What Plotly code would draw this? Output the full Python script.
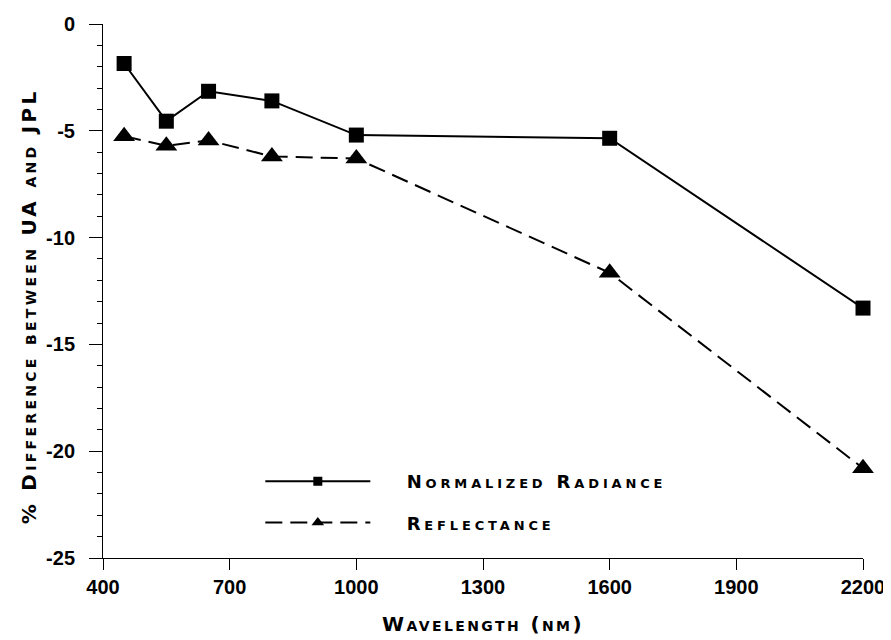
import plotly.graph_objects as go

# wavelength (nm)
wavelength = [450, 550, 650, 800, 1000, 1600, 2200]
# % difference between UA and JPL
norm_radiance = [-1.85, -4.55, -3.15, -3.6, -5.2, -5.35, -13.3]
reflectance = [-5.25, -5.7, -5.45, -6.2, -6.3, -11.65, -20.8]

x_ticks = [400, 700, 1000, 1300, 1600, 1900, 2200]
y_ticks = [0, -5, -10, -15, -20, -25]
y_labels = ["0", "-5", "-10", "-15", "-20", "-25"]
y_minor = [v for v in range(-24, 0) if v % 5]

FONT = "Liberation Sans, Arial, sans-serif"
CAPS_FONT = "DejaVu Sans, sans-serif"


def spaced(text, spacing):
    return f'<span style="letter-spacing:{spacing}px">{text}</span>'


pad = "\u00a0" * 5

fig = go.Figure()
fig.add_trace(go.Scatter(
    x=wavelength, y=norm_radiance, showlegend=False,
    mode="lines+markers", cliponaxis=False,
    line=dict(color="black", width=2),
    marker=dict(symbol="square", size=15, color="black"),
))
fig.add_trace(go.Scatter(
    x=wavelength, y=reflectance, showlegend=False,
    mode="lines+markers", cliponaxis=False,
    line=dict(color="black", width=2, dash="17px,8px"),
    marker=dict(symbol="triangle-up", size=19, color="black"),
))
# legend entries with small symbols
fig.add_trace(go.Scatter(
    x=[None], y=[None], name=pad + spaced("Normalized Radiance", 3.85),
    mode="lines+markers", legendgroup="a",
    line=dict(color="black", width=2),
    marker=dict(symbol="square", size=9, color="black"),
))
fig.add_trace(go.Scatter(
    x=[None], y=[None], name=pad + spaced("Reflectance", 3.85),
    mode="lines+markers", legendgroup="b",
    line=dict(color="black", width=2, dash="17px,8px"),
    marker=dict(symbol="triangle-up", size=11, color="black"),
))

fig.update_layout(
    width=891, height=640,
    margin=dict(l=95, r=36, t=16, b=90),
    plot_bgcolor="white", paper_bgcolor="white",
    font=dict(family=FONT, color="black"),
    legend=dict(
        x=0.207, y=0.178, xanchor="left", yanchor="top",
        bgcolor="rgba(0,0,0,0)",
        font=dict(family=CAPS_FONT, size=18, weight="bold", variant="small-caps"),
        itemwidth=105, tracegroupgap=15,
    ),
    xaxis=dict(
        range=[400, 2200], tickvals=x_ticks,
        showline=True, linecolor="black", linewidth=1,
        ticks="outside", ticklen=11, tickcolor="black",
        showgrid=False, zeroline=False, automargin=False,
        tickfont=dict(size=20, weight="bold"),
        title=dict(text=spaced("Wavelength (nm)", 2.4), standoff=19,
                   font=dict(family=CAPS_FONT, size=20, weight="bold", variant="small-caps")),
    ),
    yaxis=dict(
        range=[-25, 0], tickvals=y_ticks, ticktext=y_labels,
        showline=True, linecolor="black", linewidth=1,
        ticks="outside", ticklen=13, tickcolor="black",
        ticklabelstandoff=10,
        minor=dict(tickmode="array", tickvals=y_minor, ticks="outside",
                   ticklen=5, tickcolor="black"),
        showgrid=False, zeroline=False, automargin=False,
        tickfont=dict(size=20, weight="bold"),
        title=dict(text=spaced("% Difference between UA and JPL" + "\u00a0" * 3, 3.3),
                   standoff=4,
                   font=dict(family=CAPS_FONT, size=20, weight="bold", variant="small-caps")),
    ),
)

fig.write_html("out.html")
